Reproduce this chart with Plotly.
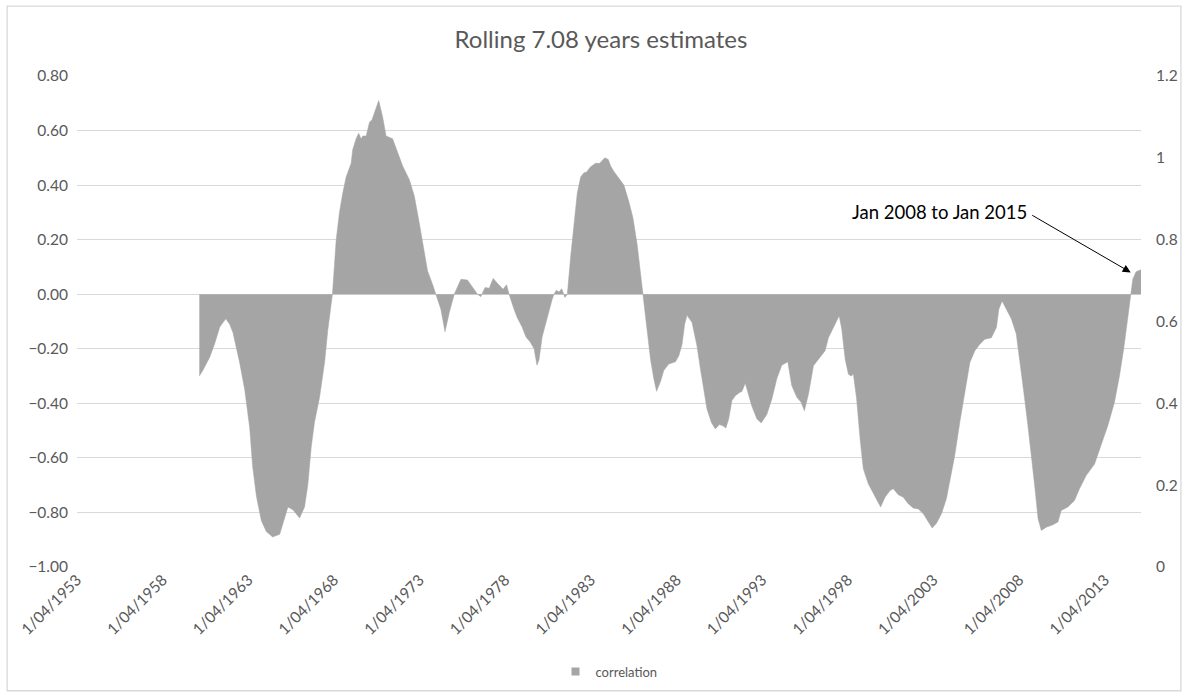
import plotly.graph_objects as go
from datetime import datetime, timedelta

# decimal year positions
years = [
    1960.39, 1960.59, 1961.00, 1961.29, 1961.58, 1961.93, 1962.16, 1962.35, 1962.74, 1963.04,
    1963.33, 1963.50, 1963.72, 1964.01, 1964.30, 1964.67, 1965.08, 1965.37, 1965.56, 1965.85,
    1966.24, 1966.53, 1966.72, 1966.92, 1967.11, 1967.40, 1967.70, 1967.89, 1968.16, 1968.38,
    1968.57, 1968.76, 1968.96, 1969.25, 1969.34, 1969.54, 1969.69, 1969.83, 1969.93, 1970.13,
    1970.32, 1970.47, 1970.61, 1970.86, 1971.09, 1971.29, 1971.67, 1971.97, 1972.26, 1972.65,
    1972.94, 1973.23, 1973.42, 1973.71, 1974.00, 1974.20, 1974.49, 1974.73, 1974.98, 1975.27,
    1975.66, 1976.04, 1976.43, 1976.63, 1976.82, 1977.07, 1977.31, 1977.54, 1977.79, 1978.12,
    1978.32, 1978.47, 1978.76, 1978.94, 1979.23, 1979.46, 1979.70, 1979.93, 1980.10, 1980.22,
    1980.40, 1980.69, 1980.98, 1981.09, 1981.23, 1981.38, 1981.54, 1981.73, 1981.87, 1982.07,
    1982.26, 1982.45, 1982.65, 1982.84, 1982.98, 1983.23, 1983.52, 1983.76, 1983.91, 1984.06,
    1984.26, 1984.40, 1984.59, 1984.88, 1985.17, 1985.46, 1985.70, 1985.95, 1986.14, 1986.31,
    1986.53, 1986.73, 1986.92, 1987.08, 1987.31, 1987.50, 1987.79, 1988.18, 1988.38, 1988.57,
    1988.72, 1988.86, 1989.15, 1989.44, 1989.64, 1989.83, 1990.02, 1990.28, 1990.51, 1990.75,
    1990.94, 1991.13, 1991.29, 1991.48, 1991.68, 1991.93, 1992.06, 1992.26, 1992.41, 1992.64,
    1992.94, 1993.19, 1993.52, 1993.81, 1994.10, 1994.39, 1994.74, 1994.97, 1995.27, 1995.52,
    1995.71, 1995.95, 1996.24, 1996.53, 1996.92, 1997.11, 1997.40, 1997.74, 1997.89, 1998.09,
    1998.28, 1998.43, 1998.57, 1998.76, 1998.96, 1999.15, 1999.44, 1999.73, 1999.98, 2000.16,
    2000.42, 2000.71, 2000.90, 2001.19, 2001.48, 2001.77, 2002.06, 2002.36, 2002.65, 2002.94,
    2003.17, 2003.42, 2003.71, 2004.00, 2004.20, 2004.49, 2004.78, 2005.08, 2005.37, 2005.66,
    2005.95, 2006.24, 2006.62, 2006.92, 2007.06, 2007.25, 2007.50, 2007.79, 2008.08, 2008.24,
    2008.37, 2008.57, 2008.76, 2008.95, 2009.15, 2009.35, 2009.54, 2009.83, 2010.22, 2010.51,
    2010.70, 2011.09, 2011.48, 2011.77, 2012.16, 2012.65, 2013.03, 2013.42, 2013.81, 2014.10,
    2014.35, 2014.55, 2014.75, 2014.88, 2015.07, 2015.36,
]

correlation = [
    -0.30, -0.28, -0.23, -0.18, -0.12, -0.09, -0.11, -0.14, -0.25, -0.35,
    -0.49, -0.63, -0.74, -0.83, -0.87, -0.89, -0.88, -0.82, -0.78, -0.79,
    -0.82, -0.78, -0.70, -0.56, -0.47, -0.38, -0.25, -0.13, 0.00, 0.20,
    0.30, 0.37, 0.43, 0.48, 0.53, 0.57, 0.59, 0.57, 0.58, 0.58,
    0.63, 0.64, 0.665, 0.71, 0.65, 0.58, 0.57, 0.52, 0.47, 0.42,
    0.36, 0.26, 0.19, 0.085, 0.037, 0.00, -0.055, -0.138, -0.067, 0.00,
    0.055, 0.052, 0.018, 0.00, -0.009, 0.025, 0.022, 0.058, 0.04, 0.018,
    0.035, 0.00, -0.055, -0.085, -0.12, -0.157, -0.175, -0.20, -0.26, -0.24,
    -0.157, -0.085, -0.02, 0.00, 0.015, 0.008, 0.02, -0.012, 0.00, 0.14,
    0.27, 0.37, 0.43, 0.445, 0.447, 0.467, 0.48, 0.48, 0.49, 0.50,
    0.494, 0.47, 0.45, 0.427, 0.40, 0.34, 0.28, 0.18, 0.08, 0.00,
    -0.128, -0.24, -0.31, -0.356, -0.32, -0.28, -0.256, -0.248, -0.226, -0.183,
    -0.11, -0.077, -0.104, -0.19, -0.274, -0.35, -0.42, -0.47, -0.494, -0.478,
    -0.482, -0.49, -0.457, -0.39, -0.372, -0.36, -0.357, -0.326, -0.36, -0.41,
    -0.457, -0.472, -0.44, -0.384, -0.31, -0.26, -0.248, -0.335, -0.378, -0.396,
    -0.427, -0.366, -0.262, -0.238, -0.207, -0.16, -0.12, -0.079, -0.128, -0.238,
    -0.293, -0.30, -0.293, -0.384, -0.53, -0.64, -0.695, -0.73, -0.756, -0.78,
    -0.744, -0.72, -0.713, -0.735, -0.744, -0.768, -0.784, -0.787, -0.805, -0.835,
    -0.857, -0.84, -0.805, -0.75, -0.69, -0.59, -0.47, -0.35, -0.25, -0.207,
    -0.183, -0.165, -0.16, -0.122, -0.055, -0.025, -0.055, -0.09, -0.146, -0.22,
    -0.287, -0.384, -0.482, -0.58, -0.70, -0.823, -0.866, -0.854, -0.845, -0.835,
    -0.793, -0.78, -0.756, -0.713, -0.665, -0.622, -0.555, -0.482, -0.396, -0.30,
    -0.2, -0.104, 0.00, 0.055, 0.082, 0.09,
]

tick_years = [1953, 1958, 1963, 1968, 1973, 1978, 1983, 1988, 1993, 1998, 2003, 2008, 2013]
tick_labels = ["1/04/%d" % y for y in tick_years]
axis_start = "1953-04-01"
left_ticks = [-1.0, -0.8, -0.6, -0.4, -0.2, 0.0, 0.2, 0.4, 0.6, 0.8]
right_ticks = [0, 0.2, 0.4, 0.6, 0.8, 1, 1.2]


def to_date(y):
    yr = int(y)
    return datetime(yr, 1, 1) + timedelta(days=(y - yr) * 365.25)


dates = [to_date(y) for y in years]
tick_dates = [datetime(y, 4, 1) for y in tick_years]

FONT = "Lato, 'Liberation Sans', sans-serif"
GREY_TXT = "#595959"
GRID = "#D9D9D9"
AREA = "#A5A5A5"
TICK_SIZE = 15.5

fig = go.Figure()
fig.add_trace(go.Scatter(
    x=dates, y=correlation, name="correlation", mode="lines",
    line=dict(color=AREA, width=0.5), fill="tozeroy", fillcolor=AREA,
    showlegend=False,
))
# legend key (square swatch, like the reference)
fig.add_trace(go.Scatter(
    x=[None], y=[None], name="correlation", mode="markers",
    marker=dict(symbol="square", size=8, color=AREA), showlegend=True,
))
# secondary axis carrier (no visible mark)
fig.add_trace(go.Scatter(
    x=[dates[0]], y=[0], yaxis="y2", mode="markers", marker=dict(opacity=0),
    showlegend=False, hoverinfo="skip",
))

fig.update_layout(
    width=1190, height=698,
    margin=dict(l=77, r=47, t=76, b=130),
    paper_bgcolor="white", plot_bgcolor="white",
    font=dict(family=FONT, color=GREY_TXT, size=TICK_SIZE),
    title=dict(text="Rolling 7.08 years estimates", x=0.505, xanchor="center",
               y=0.943, yanchor="middle", font=dict(size=24, color=GREY_TXT)),
    xaxis=dict(type="date", range=[axis_start, to_date(years[-1])],
               tickmode="array", tickvals=tick_dates, ticktext=tick_labels,
               tickangle=-45, showgrid=False, zeroline=False, showline=False,
               tickfont=dict(size=TICK_SIZE, color=GREY_TXT)),
    yaxis=dict(range=[-1.0, 0.8], tickmode="array", tickvals=left_ticks,
               tickformat=".2f", showgrid=True, gridcolor=GRID, gridwidth=1,
               zeroline=True, zerolinecolor=GRID, zerolinewidth=1, showline=False,
               ticklabelstandoff=8, tickfont=dict(size=TICK_SIZE, color=GREY_TXT)),
    yaxis2=dict(range=[0, 1.2], overlaying="y", side="right", tickmode="array",
                tickvals=right_ticks, showgrid=False, zeroline=False, showline=False,
                ticklabelstandoff=14, tickfont=dict(size=TICK_SIZE, color=GREY_TXT)),
    legend=dict(orientation="h", x=0.5, xanchor="center", y=-0.213, yanchor="middle",
                font=dict(size=13, color=GREY_TXT), itemwidth=30),
    showlegend=True,
)

# annotation text + arrow
fig.add_annotation(x=to_date(2003.58), y=0.30, xref="x", yref="y",
                   text="Jan 2008 to Jan 2015", showarrow=False,
                   font=dict(size=18.5, color="#000000", family=FONT))
fig.add_annotation(x=to_date(2014.76), y=0.08, xref="x", yref="y", text="",
                   showarrow=True, arrowhead=2, arrowsize=1.6, arrowwidth=1,
                   arrowcolor="#000000", ax=-100, ay=-58, standoff=0)

# chart frame
fig.add_shape(type="rect", xref="paper", yref="paper",
              x0=(7 - 77) / 1066, x1=(1183 - 77) / 1066,
              y0=(568 - 692) / 492, y1=(568 - 6) / 492,
              line=dict(color=GRID, width=1.3), fillcolor="rgba(0,0,0,0)", layer="below")

fig.write_html("out.html", config={"displayModeBar": False},
               post_script="document.body.style.margin='0';")
